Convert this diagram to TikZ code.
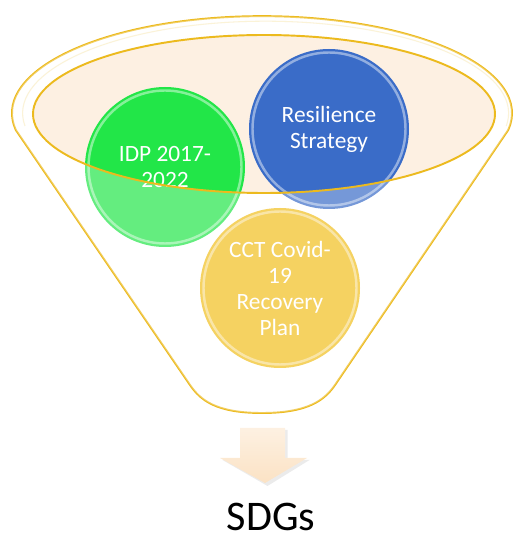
\documentclass[tikz,border=0pt]{standalone}
\usepackage{fontspec}
\setmainfont{Carlito}
\usetikzlibrary{calc}
\definecolor{funnelgold}{RGB}{236,186,30}
\definecolor{mouthpeach}{RGB}{253,240,226}
\definecolor{idpgreen}{RGB}{34,230,72}
\definecolor{resblue}{RGB}{58,108,200}
\definecolor{cctyellow}{RGB}{241,191,30}
\definecolor{arrowcream}{RGB}{251,226,196}
\tikzset{
  ball/.style={circle, minimum size=3.2cm, inner sep=0pt, text=white, align=center,
    font=\fontsize{13.3}{14.8}\selectfont},
  rim/.style={draw=funnelgold, line width=1.1pt},
  gloss/.style={draw=white, opacity=0.45, line width=1.4pt},
}
\def\funnelpath{(0.316,8.22) arc (190:-10:5 and 1.94) -- (6.7,3.12)
  .. controls (6.5,2.83) and (6.18,2.56) .. (5.24,2.56)
  .. controls (4.3,2.56) and (4.0,2.83) .. (3.8,3.12) -- cycle}

\begin{document}
\begin{tikzpicture}
\useasboundingbox (0,0) rectangle (10.28,10.82);
% funnel body and mouth
\draw [rim, fill=white] \funnelpath;
\draw [funnelgold!25, line width=0.6pt] (0.5,8.3) arc (188:-8:4.86 and 1.84);
\fill [mouthpeach] (5.28,8.54) ellipse (4.62 and 1.58);
% the three plans
\node [ball, fill=idpgreen] (idp) at (3.3,7.48) {IDP 2017-\\2022};
\node [ball, fill=resblue] (res) at (6.58,8.24) {Resilience\\Strategy};
\node [ball, fill=cctyellow] (cct) at (5.6,5.06) {CCT Covid-\\19\\Recovery\\Plan};
\draw [gloss] (idp.center) circle (1.53);
\draw [gloss] (res.center) circle (1.53);
\draw [gloss] (cct.center) circle (1.53);
% lower part of the funnel seen through
\fill [white, opacity=0.3, even odd rule] \funnelpath (5.28,8.54) ellipse (4.62 and 1.58);
\draw [rim] (5.28,8.54) ellipse (4.62 and 1.58);
% output arrow
\fill [black, opacity=0.08] (4.85,2.22) -- (5.75,2.22) -- (5.75,1.62) -- (6.19,1.62)
  -- (5.35,1.1) -- (4.45,1.62) -- (4.85,1.62) -- cycle;
\shade [top color=arrowcream!50!white, bottom color=arrowcream] (4.8,2.26) -- (5.7,2.26)
  -- (5.7,1.66) -- (6.14,1.66) -- (5.3,1.16) -- (4.4,1.66) -- (4.8,1.66) -- cycle;
\node [anchor=base, inner sep=0pt, text depth=0pt, font=\fontsize{24}{28}\selectfont] (sdg) at (5.42,0.22) {SDGs};
\end{tikzpicture}
\end{document}
